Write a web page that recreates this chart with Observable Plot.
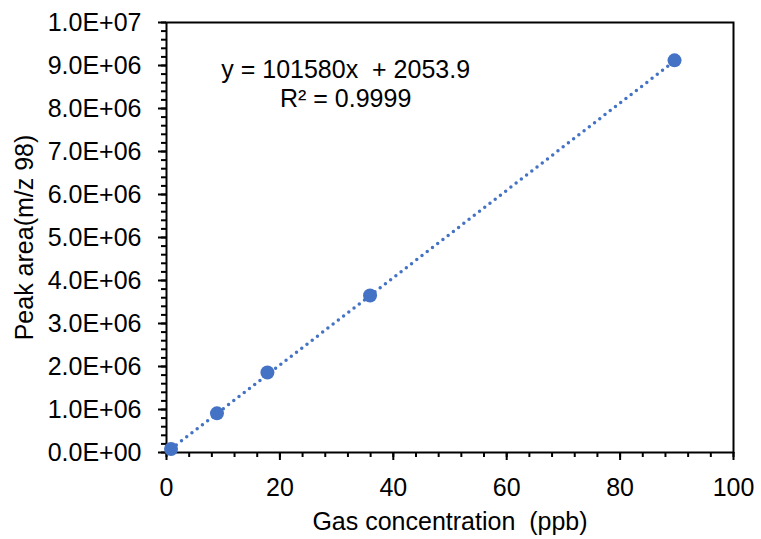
<!DOCTYPE html>
<html>
<head>
<meta charset="utf-8">
<script src="https://cdn.jsdelivr.net/npm/d3@7"></script>
<script src="https://cdn.jsdelivr.net/npm/@observablehq/plot@0.6"></script>
<style>
  html, body { margin: 0; padding: 0; background: #fff; }
  svg text { white-space: pre; }
</style>
</head>
<body>
<div id="chart"></div>
<script>
const concentration = [0.8, 8.9, 17.8, 35.9, 89.6];
const peakArea = [80000, 910000, 1860000, 3650000, 9120000];
const slope = 101580;
const intercept = 2053.9;
const xTicks = [0, 20, 40, 60, 80, 100];
const xMinorTicks = d3.range(0, 101, 4);
const yTicks = d3.range(0, 1e7 + 1, 1e6);
const yMinorTicks = d3.range(0, 1e7 + 1, 2e5);
const equationLines = [
  {x: 31.6, y: 8.9e6, text: "y = 101580x  + 2053.9"},
  {x: 31.6, y: 8.22e6, text: "R² = 0.9999"}
];
const xLabel = "Gas concentration  (ppb)";
const yLabel = "Peak area(m/z 98)";
const blue = "#4472C4";

const points = concentration.map((c, i) => ({x: c, y: peakArea[i]}));
const xmin = d3.min(concentration), xmax = d3.max(concentration);
const fit = [xmin, xmax].map(x => ({x, y: slope * x + intercept}));

const fmt = d => {
  const s = d.toExponential(1);
  return s.replace(/e([+-])(\d+)$/, (m, sign, e) => "E" + sign + e.padStart(2, "0"));
};

const chart = Plot.plot({
  width: 761,
  height: 539,
  marginLeft: 166,
  marginRight: 28,
  marginTop: 22,
  marginBottom: 87,
  style: {fontFamily: "'Liberation Sans', Arial, sans-serif", fontSize: "25px", color: "#000", background: "#fff"},
  x: {domain: [0, 100]},
  y: {domain: [0, 1e7]},
  marks: [
    Plot.axisX({ticks: xMinorTicks, tickSize: 5, strokeWidth: 2, tickFormat: () => "", label: null}),
    Plot.axisX({ticks: xTicks, tickSize: 8, tickPadding: 18, strokeWidth: 2, tickFormat: d => String(d), label: null, fontSize: 25}),
    Plot.axisY({ticks: yMinorTicks, tickSize: 5, strokeWidth: 2, tickFormat: () => "", label: null}),
    Plot.axisY({ticks: yTicks, tickSize: 8, tickPadding: 17, strokeWidth: 2, tickFormat: fmt, label: null, fontSize: 25}),
    Plot.frame({stroke: "#000", strokeWidth: 2}),
    Plot.line(fit, {x: "x", y: "y", stroke: blue, strokeWidth: 3.5, strokeDasharray: "0,6.6", strokeLinecap: "round"}),
    Plot.dot(points, {x: "x", y: "y", r: 7, fill: blue, stroke: "none"}),
    Plot.text(equationLines, {x: "x", y: "y", text: "text", fontSize: 25, fill: "#000", textAnchor: "middle"}),
    Plot.text([xLabel], {frameAnchor: "bottom", textAnchor: "middle", dy: 77, text: d => d, fontSize: 25, fill: "#000"}),
    Plot.text([yLabel], {frameAnchor: "left", textAnchor: "middle", dx: -142, rotate: -90, text: d => d, fontSize: 25, fill: "#000"})
  ]
});
document.getElementById("chart").appendChild(chart);
</script>
</body>
</html>
